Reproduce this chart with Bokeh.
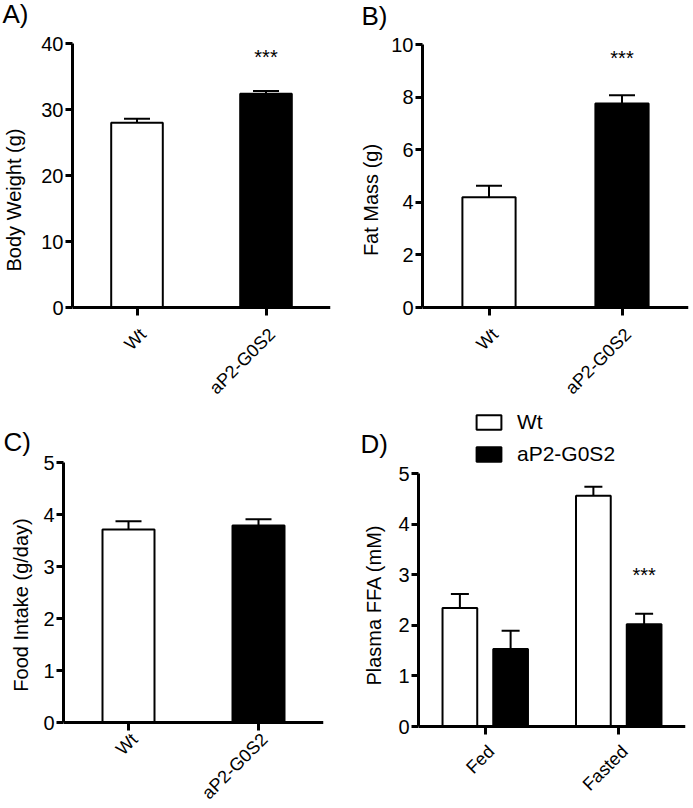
import math
from bokeh.plotting import figure
from bokeh.layouts import column, row
from bokeh.models import (ColumnDataSource, Whisker, TeeHead, FixedTicker, Range1d,
                          FactorRange, Legend, LegendItem, LabelSet, GridBox)
from bokeh.transform import dodge
from bokeh.core.properties import value
from bokeh.embed import file_html
from bokeh.resources import INLINE

FONT = "Liberation Sans"

# ---------------- data ----------------
genotypes = ["Wt", "aP2-G0S2"]

body_weight_mean = [28.0, 32.4]
body_weight_sem = [0.6, 0.4]

fat_mass_mean = [4.19, 7.76]
fat_mass_sem = [0.44, 0.31]

food_intake_mean = [3.71, 3.79]
food_intake_sem = [0.16, 0.12]

conditions = ["Fed", "Fasted"]
ffa_wt_mean = [2.34, 4.56]
ffa_wt_sem = [0.28, 0.18]
ffa_tg_mean = [1.53, 2.02]
ffa_tg_sem = [0.36, 0.21]

ticks_a = [0, 10, 20, 30, 40]
ticks_b = [0, 2, 4, 6, 8, 10]
ticks_c = [0, 1, 2, 3, 4, 5]
ticks_d = [0, 1, 2, 3, 4, 5]

sig_a = ("aP2-G0S2", 38.0)
sig_b = ("aP2-G0S2", 9.47)
sig_d = ("Fasted", 3.0)

panel_letters = ["A)", "B)", "C)", "D)"]

# ---------------- styles / layout (pixels) ----------------
FILLS = ["white", "black"]
PAGE_W, PAGE_H = 693, 808
ROW1_H, ROW2_H = 409, 399
BOTTOM1, BOTTOM2 = 10, 8
LETTER_X = [2, 361, 3, 360]        # left edge of each panel letter
LETTER_BASE = [22, 24, 450, 452]   # baseline of each panel letter


def y_range_for(ticks, zero_px, top_px, frame_h):
    """Range so that 0 sits at zero_px and the top tick at top_px (frame pixels)."""
    ppu = (zero_px - top_px) / ticks[-1]
    return Range1d(-(frame_h - zero_px) / ppu, zero_px / ppu)


def labelset(p, xs, ys, texts, size, **kw):
    src = ColumnDataSource(dict(x=xs, y=ys, t=texts))
    p.add_layout(LabelSet(x="x", y="y", text="t", source=src, text_font=value(FONT),
                          text_font_size=value(size), text_color="black", **kw))


def style(p, yticks, ylabel, label_standoff, xfactors, xlab_dy):
    p.xgrid.grid_line_color = None
    p.ygrid.grid_line_color = None
    p.outline_line_color = None
    p.background_fill_color = "white"
    for ax in (p.xaxis[0], p.yaxis[0]):
        ax.axis_line_width = 3
        ax.axis_line_color = "black"
        ax.major_tick_line_width = 3
        ax.major_tick_line_color = "black"
        ax.major_tick_out = 7
        ax.major_tick_in = 0
        ax.minor_tick_line_color = None
        ax.major_label_text_font = FONT
        ax.major_label_text_font_size = "20px"
        ax.major_label_text_color = "black"
        ax.major_label_standoff = 2
    p.xaxis.major_tick_out = 8
    p.xaxis.major_label_text_font_size = "0px"
    p.xaxis.major_label_standoff = 0
    p.xaxis.fixed_location = 0
    p.yaxis.ticker = FixedTicker(ticks=yticks)
    p.yaxis.bounds = (0, yticks[-1])
    p.yaxis.axis_label = ylabel
    p.yaxis.axis_label_text_font = FONT
    p.yaxis.axis_label_text_font_size = "20px"
    p.yaxis.axis_label_text_font_style = "normal"
    p.yaxis.axis_label_text_color = "black"
    p.yaxis.axis_label_standoff = label_standoff
    # rotated category labels under the axis
    labelset(p, xfactors, [0] * len(xfactors), xfactors, "18px", angle=math.pi / 4,
             x_offset=6, y_offset=xlab_dy, text_align="right", text_baseline="middle")


def new_fig(factors, yr, w, h, bl, br, bb):
    return figure(x_range=FactorRange(factors=factors), y_range=yr,
                  width=w, height=h, min_border_left=bl, min_border_right=br,
                  min_border_top=0, min_border_bottom=bb, title=None,
                  output_backend="svg", toolbar_location=None)


def simple_panel(means, sems, yticks, ylabel, w, h, bl, br, bb,
                 zero_px, top_px, label_standoff, xlab_dy, sig=None):
    p = new_fig(genotypes, y_range_for(yticks, zero_px, top_px, h - bb), w, h, bl, br, bb)
    src = ColumnDataSource(dict(
        g=genotypes, m=means,
        up=[m + s for m, s in zip(means, sems)],
        fill=FILLS))
    p.add_layout(Whisker(base="g", lower="m", upper="up", source=src,
                         line_width=2, line_color="black",
                         upper_head=TeeHead(size=26, line_width=2, line_color="black"),
                         lower_head=None))
    p.vbar(x="g", top="m", width=0.4, source=src, fill_color="fill",
           line_color="black", line_width=2)
    if sig is not None:
        labelset(p, [sig[0]], [sig[1]], ["***"], "20px",
                 text_align="center", text_baseline="middle")
    style(p, yticks, ylabel, label_standoff, genotypes, xlab_dy)
    return p


pA = simple_panel(body_weight_mean, body_weight_sem, ticks_a, "Body Weight (g)",
                  346, ROW1_H, 67, 16, BOTTOM1, 307, 43, 13, -24, sig_a)
pB = simple_panel(fat_mass_mean, fat_mass_sem, ticks_b, "Fat Mass (g)",
                  347, ROW1_H, 76, 5, BOTTOM1, 307, 44, 6, -24, sig_b)
pC = simple_panel(food_intake_mean, food_intake_sem, ticks_c, "Food Intake (g/day)",
                  346, ROW2_H, 63, 23, BOTTOM2, 722 - ROW1_H, 462 - ROW1_H, 8, -14)

# Panel D
pD = new_fig(conditions, y_range_for(ticks_d, 726 - ROW1_H, 473 - ROW1_H, ROW2_H - BOTTOM2),
             347, ROW2_H, 72, 8, BOTTOM2)
srcw = ColumnDataSource(dict(c=conditions, m=ffa_wt_mean,
                             up=[m + s for m, s in zip(ffa_wt_mean, ffa_wt_sem)]))
srct = ColumnDataSource(dict(c=conditions, m=ffa_tg_mean,
                             up=[m + s for m, s in zip(ffa_tg_mean, ffa_tg_sem)]))
OFF = 0.19
for src, off in ((srcw, -OFF), (srct, OFF)):
    pD.add_layout(Whisker(base=dodge("c", off, range=pD.x_range), lower="m", upper="up",
                          source=src, line_width=2, line_color="black",
                          upper_head=TeeHead(size=18, line_width=2, line_color="black"),
                          lower_head=None))
rw = pD.vbar(x=dodge("c", -OFF, range=pD.x_range), top="m", width=0.26, source=srcw,
             fill_color=FILLS[0], line_color="black", line_width=2)
rt = pD.vbar(x=dodge("c", OFF, range=pD.x_range), top="m", width=0.26, source=srct,
             fill_color=FILLS[1], line_color="black", line_width=2)
pD.add_layout(LabelSet(x=dodge("x", OFF, range=pD.x_range), y="y", text="t",
                       source=ColumnDataSource(dict(x=[sig_d[0]], y=[sig_d[1]], t=["***"])),
                       text_font=value(FONT), text_font_size=value("20px"),
                       text_align="center", text_baseline="middle", text_color="black"))
style(pD, ticks_d, "Plasma FFA (mM)", 10, conditions, -22)

legend = Legend(items=[LegendItem(label="Wt", renderers=[rw]),
                       LegendItem(label="aP2-G0S2", renderers=[rt])],
                location=(55, (ROW1_H + ROW2_H - BOTTOM2) - 466), orientation="vertical",
                border_line_color=None, background_fill_alpha=0,
                padding=0, margin=0, spacing=8, glyph_width=31, glyph_height=18,
                label_standoff=13, label_height=18,
                label_text_font=FONT, label_text_font_size="21px",
                label_text_baseline="middle", label_text_color="black")
pD.add_layout(legend)

main = column(row(pA, pB), row(pC, pD))

# transparent overlay carrying the panel letters
ov = figure(width=PAGE_W, height=PAGE_H, x_range=Range1d(0, PAGE_W), y_range=Range1d(PAGE_H, 0),
            min_border=0, x_axis_type=None, y_axis_type=None, title=None,
            output_backend="svg", toolbar_location=None,
            background_fill_alpha=0, border_fill_alpha=0, outline_line_color=None)
labelset(ov, LETTER_X, LETTER_BASE, panel_letters, "26px",
         text_align="left", text_baseline="alphabetic")

layout = GridBox(children=[(main, 0, 0), (ov, 0, 0)])
open("out.html", "w").write(file_html(layout, INLINE))
